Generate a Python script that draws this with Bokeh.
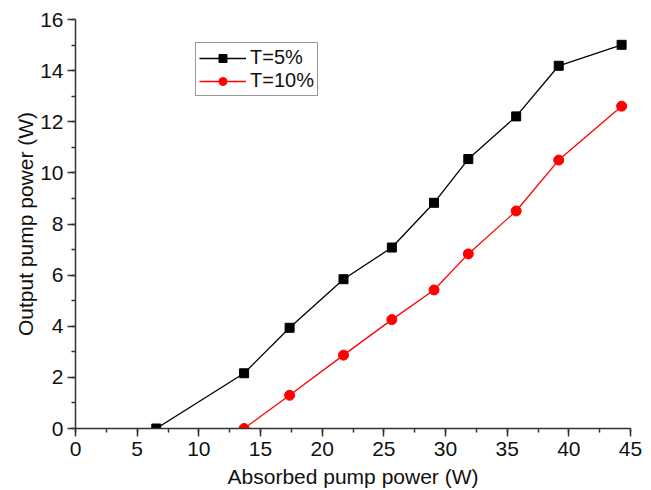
from bokeh.plotting import figure
from bokeh.models import Range1d, SingleIntervalTicker, Legend, LegendItem
from bokeh.embed import file_html
from bokeh.resources import INLINE

# Data
x_t5 = [6.55, 13.67, 17.36, 21.73, 25.65, 29.07, 31.85, 35.73, 39.18, 44.28]
y_t5 = [0.0, 2.16, 3.94, 5.84, 7.08, 8.83, 10.54, 12.21, 14.19, 15.01]
x_t10 = [13.67, 17.36, 21.73, 25.65, 29.07, 31.85, 35.73, 39.18, 44.28]
y_t10 = [0.0, 1.30, 2.87, 4.26, 5.42, 6.83, 8.51, 10.50, 12.61]
label_t5 = "T=5%"
label_t10 = "T=10%"
x_title = "Absorbed pump power (W)"
y_title = "Output pump power (W)"

FONT = "Liberation Sans"

p = figure(width=651, height=490, output_backend="svg", toolbar_location=None,
           x_range=Range1d(0, 45), y_range=Range1d(0, 16),
           min_border_left=75, min_border_right=21, min_border_top=19, min_border_bottom=62)
p.outline_line_color = None
p.grid.visible = False
p.background_fill_color = "white"
p.border_fill_color = "white"

for ax in (p.xaxis[0], p.yaxis[0]):
    ax.axis_line_color = "#333333"
    ax.axis_line_width = 1.5
    ax.major_tick_line_color = "#333333"
    ax.minor_tick_line_color = "#333333"
    ax.major_tick_line_width = 1.5
    ax.minor_tick_line_width = 1.5
    ax.major_tick_out = 8
    ax.major_tick_in = 0
    ax.minor_tick_out = 4
    ax.minor_tick_in = 0
    ax.major_label_text_font = FONT
    ax.major_label_text_font_size = "21px"
    ax.major_label_text_color = "#111111"
    ax.axis_label_text_font = FONT
    ax.axis_label_text_font_size = "21px"
    ax.axis_label_text_font_style = "normal"
    ax.axis_label_text_color = "#111111"

p.xaxis.ticker = SingleIntervalTicker(interval=5, num_minor_ticks=2)
p.yaxis.ticker = SingleIntervalTicker(interval=2, num_minor_ticks=2)
p.xaxis.axis_label = x_title
p.yaxis.axis_label = y_title
p.xaxis.major_label_standoff = 5
p.yaxis.major_label_standoff = 4
p.xaxis.axis_label_standoff = 6
p.yaxis.axis_label_standoff = 0

l1 = p.line(x_t5, y_t5, line_color="black", line_width=1.3)
m1 = p.scatter(x_t5, y_t5, marker="square", size=9, fill_color="black", line_color="black")
l2 = p.line(x_t10, y_t10, line_color="red", line_width=1.3)
m2 = p.scatter(x_t10, y_t10, marker="circle", size=10, fill_color="red", line_color="red")

legend = Legend(items=[LegendItem(label=label_t5, renderers=[l1, m1]),
                       LegendItem(label=label_t10, renderers=[l2, m2])],
                location=(120, 332))
legend.label_text_font = FONT
legend.label_text_font_size = "20px"
legend.label_text_color = "#111111"
legend.border_line_color = "#333333"
legend.border_line_width = 1
legend.glyph_width = 47
legend.glyph_height = 20
legend.label_height = 20
legend.label_standoff = 4
legend.padding = 3
legend.spacing = 0
legend.margin = 0
legend.background_fill_alpha = 1
p.add_layout(legend, "center")

open("out.html", "w").write(file_html(p, INLINE))
